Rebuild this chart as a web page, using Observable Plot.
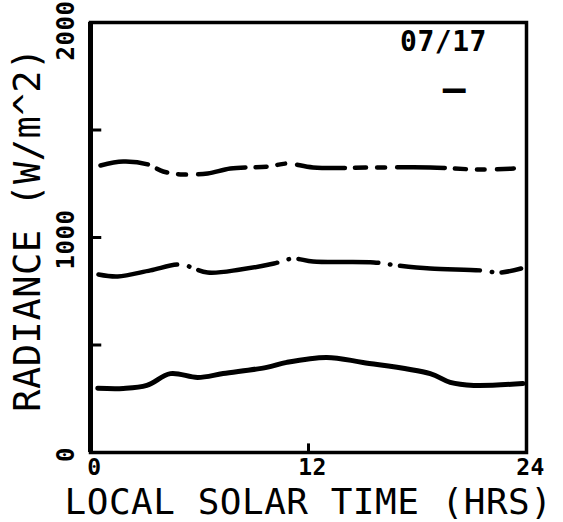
<!DOCTYPE html>
<html>
<head>
<meta charset="utf-8">
<script src="https://cdn.jsdelivr.net/npm/d3@7"></script>
<script src="https://cdn.jsdelivr.net/npm/@observablehq/plot@0.6"></script>
<style>
  body { margin: 0; background: #fff; }
  #chart svg text { letter-spacing: 0.5px; }
</style>
</head>
<body>
<div id="chart"></div>
<script>
// Diurnal radiance curves for 07/17 (local solar time, hours)
const solidHours  = [0.4, 1.8, 3.1, 4.4, 5.9, 7.3, 9.7, 10.8, 13.0, 15.0, 18.7, 19.8, 21.1, 23.8];
const solidValues = [299, 298, 312, 367, 349, 367, 396, 419, 442, 419, 367, 326, 312, 321];

const dashDotHours  = [0.44, 1.5, 3.3, 4.95, 6.45, 8.25, 10.1, 11.15, 12.25, 15.6, 16.9, 18.7, 21.45, 22.55, 23.7];
const dashDotValues = [828, 819, 847, 874, 837, 851, 879, 902, 888, 884, 870, 856, 847, 837, 856];

const longDashHours  = [0.55, 1.8, 3.15, 4.0, 5.1, 6.45, 7.7, 9.75, 10.85, 12.25, 15.95, 18.7, 21.45, 23.3];
const longDashValues = [1335, 1353, 1340, 1307, 1293, 1298, 1321, 1330, 1344, 1326, 1326, 1326, 1316, 1321];

const xTickValues = [0, 12, 24];
const xTickLabels = ["0", "12", "24"];
const yTickValues = [0, 1000, 2000];
const yTickLabels = ["0", "1000", "2000"];
const yMinorTicks = [500, 1000, 1500];
const xInnerTicks = [12];

const dateLabel = "07/17";
const xTitle = "LOCAL SOLAR TIME (HRS)";
const yTitle = "RADIANCE (W/m^2)";

const rows = (hours, values) => hours.map((h, i) => ({hour: h, value: values[i]}));
const solid = rows(solidHours, solidValues);
const dashDot = rows(dashDotHours, dashDotValues);
const longDash = rows(longDashHours, longDashValues);

const yLabel = d => yTickLabels[yTickValues.indexOf(d)];
const font = "DejaVu Sans Mono";

const chart = Plot.plot({
  width: 563,
  height: 522,
  marginLeft: 90,
  marginRight: 37,
  marginTop: 22,
  marginBottom: 70,
  x: {domain: [0, 24], axis: null},
  y: {domain: [0, 2000], axis: null},
  style: {fontFamily: font, background: "white", color: "black", overflow: "visible"},
  marks: [
    Plot.frame({stroke: "black", strokeWidth: 3.5}),
    Plot.ruleX([0], {stroke: "black", strokeWidth: 5}),
    Plot.ruleY(yMinorTicks, {x1: 0, x2: 0.62, stroke: "black", strokeWidth: 3}),
    Plot.ruleX(xInnerTicks, {y1: 0, y2: 40, stroke: "black", strokeWidth: 3}),

    Plot.line(solid, {x: "hour", y: "value", stroke: "black", strokeWidth: 5,
      curve: "catmull-rom", strokeLinecap: "round", strokeLinejoin: "round"}),
    Plot.line(dashDot, {x: "hour", y: "value", stroke: "black", strokeWidth: 4.5,
      curve: "catmull-rom", strokeLinecap: "round", strokeDasharray: "80,12,0.5,9.5"}),
    Plot.line(longDash, {x: "hour", y: "value", stroke: "black", strokeWidth: 4.5,
      curve: "catmull-rom", strokeLinecap: "round", strokeDasharray: "48,10,11,11,8,12"}),

    // y tick labels (the top one sits a little below its tick)
    Plot.text(yTickValues.slice(0, 2), {x: 0, y: d => d, text: yLabel,
      rotate: -90, dx: -24, dy: 2, fontSize: 24, fontWeight: "bold",
      textAnchor: "middle", lineAnchor: "middle"}),
    Plot.text(yTickValues.slice(2), {x: 0, y: d => d, text: yLabel,
      rotate: -90, dx: -24, dy: 8, fontSize: 24, fontWeight: "bold",
      textAnchor: "middle", lineAnchor: "middle"}),
    // x tick labels
    Plot.text(xTickValues, {x: d => d, y: 0, text: (d, i) => xTickLabels[i],
      dx: 4, dy: 15, fontSize: 23, fontWeight: "bold",
      textAnchor: "middle", lineAnchor: "middle"}),

    // axis titles
    Plot.text([yTitle], {frameAnchor: "left", rotate: -90, dx: -62, dy: -8,
      fontSize: 37, textAnchor: "middle", lineAnchor: "middle"}),
    Plot.text([xTitle], {frameAnchor: "bottom", dy: 50,
      fontSize: 36, textAnchor: "middle", lineAnchor: "middle"}),

    // date label and its marker
    Plot.text([dateLabel], {frameAnchor: "top-right", dx: -83, dy: 20,
      fontSize: 28, fontWeight: "bold", textAnchor: "middle", lineAnchor: "middle"}),
    Plot.text(["—"], {frameAnchor: "top-right", dx: -72, dy: 66,
      fontSize: 38, fontWeight: "bold", textAnchor: "middle", lineAnchor: "middle"})
  ]
});

document.getElementById("chart").appendChild(chart);
</script>
</body>
</html>
